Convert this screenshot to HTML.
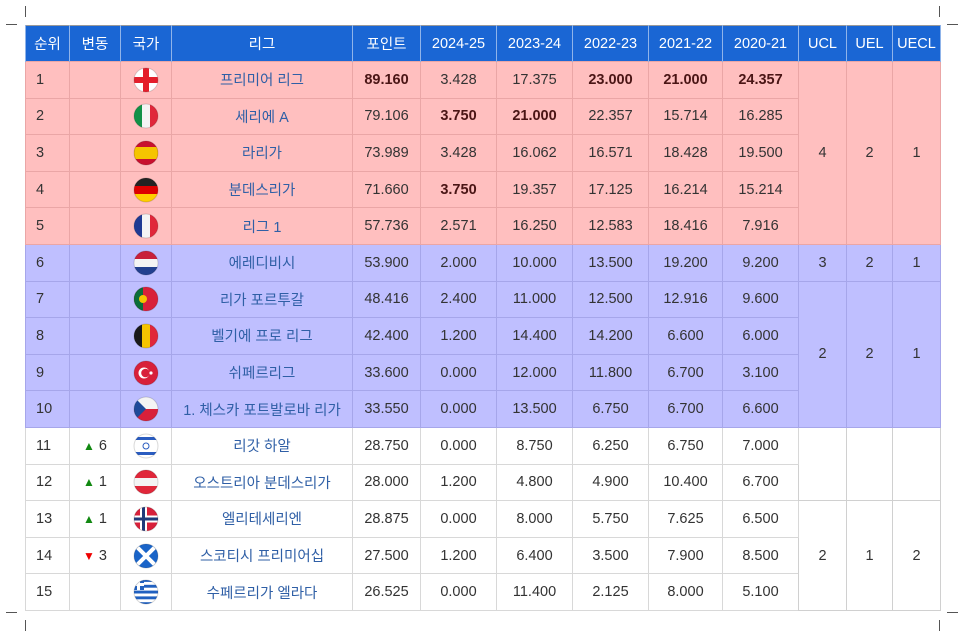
<!DOCTYPE html>
<html><head><meta charset="utf-8">
<style>
html,body{margin:0;padding:0;background:#fff;}
body{width:964px;height:637px;position:relative;overflow:hidden;font-family:"Liberation Sans","Noto Sans CJK KR",sans-serif;}
.mark{position:absolute;background:#555;}
table{position:absolute;left:25px;top:25px;border-collapse:collapse;table-layout:fixed;width:915px;font-size:14.5px;border:1px solid #999;}
th{background:#1a66d4;color:#fff;font-weight:normal;height:35px;border-left:1px solid #8fb4ea;border-right:1px solid #8fb4ea;padding:0;font-size:14.5px;}
td{height:35.6px;padding:0;text-align:center;color:#333;border:1px solid #d8d8d8;}
tr.p td{background:#ffbfbf;border-color:#eaa6a6;}
tr.b td{background:#bfbfff;border-color:#a6a6ea;}
td.lg{color:#2f5fa6;}
td.r{text-align:left;padding-left:10px;}
b{color:#4a1515;}
td.mg{border-color:#d0d0d0;}
.up{color:#118811;font-size:12px;}
.dn{color:#e00;font-size:12px;}
svg{display:block;margin:0 auto;}
</style></head><body>
<div class="mark" style="left:25px;top:6px;width:1px;height:11px"></div>
<div class="mark" style="left:6px;top:24px;width:11px;height:1px"></div>
<div class="mark" style="left:939px;top:6px;width:1px;height:11px"></div>
<div class="mark" style="left:947px;top:24px;width:11px;height:1px"></div>
<div class="mark" style="left:25px;top:620px;width:1px;height:11px"></div>
<div class="mark" style="left:6px;top:612px;width:11px;height:1px"></div>
<div class="mark" style="left:939px;top:620px;width:1px;height:11px"></div>
<div class="mark" style="left:947px;top:612px;width:11px;height:1px"></div>

<table>
<colgroup><col style="width:44px"><col style="width:51px"><col style="width:51px"><col style="width:181px"><col style="width:68px"><col style="width:76px"><col style="width:76px"><col style="width:76px"><col style="width:74px"><col style="width:76px"><col style="width:48px"><col style="width:46px"><col style="width:48px"></colgroup>
<thead><tr>
<th>순위</th><th>변동</th><th>국가</th><th>리그</th><th>포인트</th><th>2024-25</th><th>2023-24</th><th>2022-23</th><th>2021-22</th><th>2020-21</th><th>UCL</th><th>UEL</th><th>UECL</th>
</tr></thead>
<tbody id="tb"></tbody>
</table>
<script>
var ranks=[1,2,3,4,5,6,7,8,9,10,11,12,13,14,15];
var changes=["","","","","","","","","","","▲6","▲1","▲1","▼3",""];
var flags=["eng","ita","esp","ger","fra","ned","por","bel","tur","cze","isr","aut","nor","sco","gre"];
var leagues=["프리미어 리그","세리에 A","라리가","분데스리가","리그 1","에레디비시","리가 포르투갈","벨기에 프로 리그","쉬페르리그","1. 체스카 포트발로바 리가","리갓 하알","오스트리아 분데스리가","엘리테세리엔","스코티시 프리미어십","수페르리가 엘라다"];
var points=["89.160","79.106","73.989","71.660","57.736","53.900","48.416","42.400","33.600","33.550","28.750","28.000","28.875","27.500","26.525"];
var s2425=["3.428","3.750","3.428","3.750","2.571","2.000","2.400","1.200","0.000","0.000","0.000","1.200","0.000","1.200","0.000"];
var s2324=["17.375","21.000","16.062","19.357","16.250","10.000","11.000","14.400","12.000","13.500","8.750","4.800","8.000","6.400","11.400"];
var s2223=["23.000","22.357","16.571","17.125","12.583","13.500","12.500","14.200","11.800","6.750","6.250","4.900","5.750","3.500","2.125"];
var s2122=["21.000","15.714","18.428","16.214","18.416","19.200","12.916","6.600","6.700","6.700","6.750","10.400","7.625","7.900","8.000"];
var s2021=["24.357","16.285","19.500","15.214","7.916","9.200","9.600","6.000","3.100","6.600","7.000","6.700","6.500","8.500","5.100"];
var bolds=[[0,4],[0,7],[0,8],[0,9],[1,5],[1,6],[3,5]];
var spots=[{start:0,span:5,v:["4","2","1"]},{start:5,span:1,v:["3","2","1"]},{start:6,span:4,v:["2","2","1"]},{start:10,span:2,v:["","",""]},{start:12,span:3,v:["2","1","2"]}];

function flag(c){
  var clip='<clipPath id="c'+c+'"><circle cx="13" cy="13" r="12"/></clipPath>';
  var g='';
  function h3(a,b,d){return '<rect y="0" width="26" height="9" fill="'+a+'"/><rect y="9" width="26" height="8" fill="'+b+'"/><rect y="17" width="26" height="9" fill="'+d+'"/>';}
  function v3(a,b,d){return '<rect x="0" width="9" height="26" fill="'+a+'"/><rect x="9" width="8" height="26" fill="'+b+'"/><rect x="17" width="9" height="26" fill="'+d+'"/>';}
  if(c=="eng")g='<rect width="26" height="26" fill="#fff"/><rect x="10" width="6" height="26" fill="#e41e2b"/><rect y="10" width="26" height="6" fill="#e41e2b"/>';
  if(c=="ita")g=v3("#119147","#f4f4f4","#e0273a");
  if(c=="esp")g='<rect width="26" height="26" fill="#c8102e"/><rect y="7" width="26" height="12" fill="#f5c400"/>';
  if(c=="ger")g=h3("#222","#dd0000","#ffce00");
  if(c=="fra")g=v3("#1f3a93","#f4f4f4","#e0273a");
  if(c=="ned")g=h3("#c8203a","#f4f4f4","#22408f");
  if(c=="por")g='<rect width="26" height="26" fill="#d8203a"/><rect width="10" height="26" fill="#0b6e3a"/><circle cx="10" cy="13" r="4" fill="#f5c400"/>';
  if(c=="bel")g=v3("#1a1a1a","#f5c400","#e0273a");
  if(c=="tur")g='<rect width="26" height="26" fill="#d8203a"/><circle cx="11" cy="13" r="5.5" fill="#fff"/><circle cx="12.5" cy="13" r="4.3" fill="#d8203a"/><circle cx="18" cy="13" r="1.6" fill="#fff"/>';
  if(c=="cze")g='<rect width="26" height="13" fill="#f4f4f4"/><rect y="13" width="26" height="13" fill="#d8203a"/><polygon points="0,0 13,13 0,26" fill="#1f4a9a"/>';
  if(c=="isr")g='<rect width="26" height="26" fill="#fff"/><rect y="4" width="26" height="3" fill="#2a5cc0"/><rect y="19" width="26" height="3" fill="#2a5cc0"/><circle cx="13" cy="13" r="3" fill="none" stroke="#2a5cc0" stroke-width="1"/>';
  if(c=="aut")g=h3("#e0273a","#f4f4f4","#e0273a");
  if(c=="nor")g='<rect width="26" height="26" fill="#d8203a"/><rect x="7" width="7" height="26" fill="#fff"/><rect y="9.5" width="26" height="7" fill="#fff"/><rect x="9" width="3" height="26" fill="#1f3a7a"/><rect y="11.5" width="26" height="3" fill="#1f3a7a"/>';
  if(c=="sco")g='<rect width="26" height="26" fill="#1a64c8"/><path d="M0,0L26,26M26,0L0,26" stroke="#fff" stroke-width="4"/>';
  if(c=="gre"){g='<rect width="26" height="26" fill="#fff"/>';for(var i=0;i<5;i++)g+='<rect y="'+(i*5.8)+'" width="26" height="2.9" fill="#2060c0"/>';g+='<rect width="11" height="11" fill="#2060c0"/><rect x="4" width="3" height="11" fill="#fff"/><rect y="4" width="11" height="3" fill="#fff"/>';}
  return '<svg width="26" height="26" viewBox="0 0 26 26"><defs>'+clip+'</defs><g clip-path="url(#c'+c+')">'+g+'</g><circle cx="13" cy="13" r="12" fill="none" stroke="rgba(0,0,0,0.15)"/></svg>';
}
var tb=document.getElementById('tb');
for(var i=0;i<ranks.length;i++){
  var tr=document.createElement('tr');
  tr.className=i<5?'p':(i<10?'b':'');
  
  
  var vals=[ranks[i],changes[i],'',leagues[i],points[i],s2425[i],s2324[i],s2223[i],s2122[i],s2021[i]];
  var names=['rank','change','flag','league','points','2024-25','2023-24','2022-23','2021-22','2020-21'];
  for(var j=0;j<vals.length;j++){
    var td=document.createElement('td');
    
    
    var v=vals[j];
    if(j==0)td.className='r';
    if(j==3)td.className='lg';
    if(j==1&&v){var up=v[0]=='▲';td.innerHTML='<span class="'+(up?'up':'dn')+'">'+v[0]+'</span> '+v.slice(1);}
    else if(j==2)td.innerHTML=flag(flags[i]);
    else{
      var isB=bolds.some(function(b){return b[0]==i&&b[1]==j;});
      td.innerHTML=isB?'<b>'+v+'</b>':v;
    }
    tr.appendChild(td);
  }
  spots.forEach(function(s){
    if(s.start==i){
      ['ucl','uel','uecl'].forEach(function(n,k){
        var td=document.createElement('td');
        td.rowSpan=s.span;td.className='mg';
        
        
        td.textContent=s.v[k];
        tr.appendChild(td);
      });
    }
  });
  tb.appendChild(tr);
}
</script>
</body></html>
